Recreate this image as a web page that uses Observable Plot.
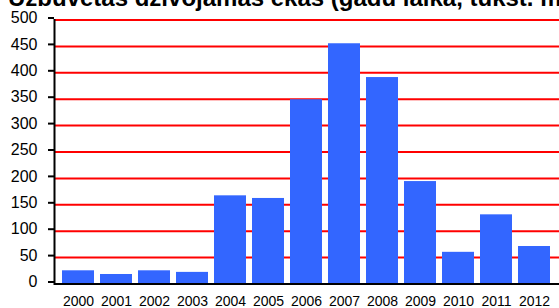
<!DOCTYPE html>
<html>
<head>
<meta charset="utf-8">
<script src="https://cdn.jsdelivr.net/npm/d3@7"></script>
<script src="https://cdn.jsdelivr.net/npm/@observablehq/plot@0.6"></script>
<style>
  html, body { margin: 0; padding: 0; background: #fff; overflow: hidden; }
  #wrap { position: relative; width: 559px; height: 308px; overflow: hidden; }
  #title { position: absolute; left: 8px; top: -14px; font: bold 24px "Liberation Sans", Arial, sans-serif; color: #000; white-space: nowrap; line-height: 24px; }
  svg { display: block; }
</style>
</head>
<body>
<div id="wrap">
<div id="chart"></div>
<div id="title">Uzbūvētās dzīvojamās ēkas (gadu laikā, tūkst. m²)</div>
</div>
<script>
const years = ["2000","2001","2002","2003","2004","2005","2006","2007","2008","2009","2010","2011","2012"];
const values = [25, 18, 25, 22, 167, 162, 349, 455, 391, 194, 60, 131, 71];
const yTicks = [0, 50, 100, 150, 200, 250, 300, 350, 400, 450, 500];
const gridTicks = [50, 100, 150, 200, 250, 300, 350, 400, 450, 500];

const data = years.map((y, i) => ({year: y, value: values[i]}));

const chart = Plot.plot({
  width: 559,
  height: 308,
  marginLeft: 54,
  marginRight: 0,
  marginTop: 19.5,
  marginBottom: 24.5,
  style: {fontFamily: "'Liberation Sans', Arial, sans-serif", background: "#fff", overflow: "visible"},
  x: {domain: years, paddingInner: 0.15, paddingOuter: 0.05, label: null},
  y: {domain: [0, 500], label: null},
  marks: [
    Plot.ruleY(gridTicks, {stroke: "#ff0000", strokeWidth: 2}),
    Plot.barY(data, {x: "year", y: "value", fill: "#3366ff"}),
    Plot.ruleY([0], {stroke: "#000", strokeWidth: 2}),
    Plot.frame({anchor: "left", stroke: "#000", strokeWidth: 2}),
    Plot.axisY({ticks: yTicks, tickSize: 6, tickPadding: 11, fontSize: 16, strokeWidth: 2, stroke: "#000", fill: "#000", label: null, dy: -2}),
    Plot.axisX({tickSize: 0, tickPadding: 12, fontSize: 14, fill: "#000", label: null})
  ]
});
document.getElementById("chart").appendChild(chart);
</script>
</body>
</html>
